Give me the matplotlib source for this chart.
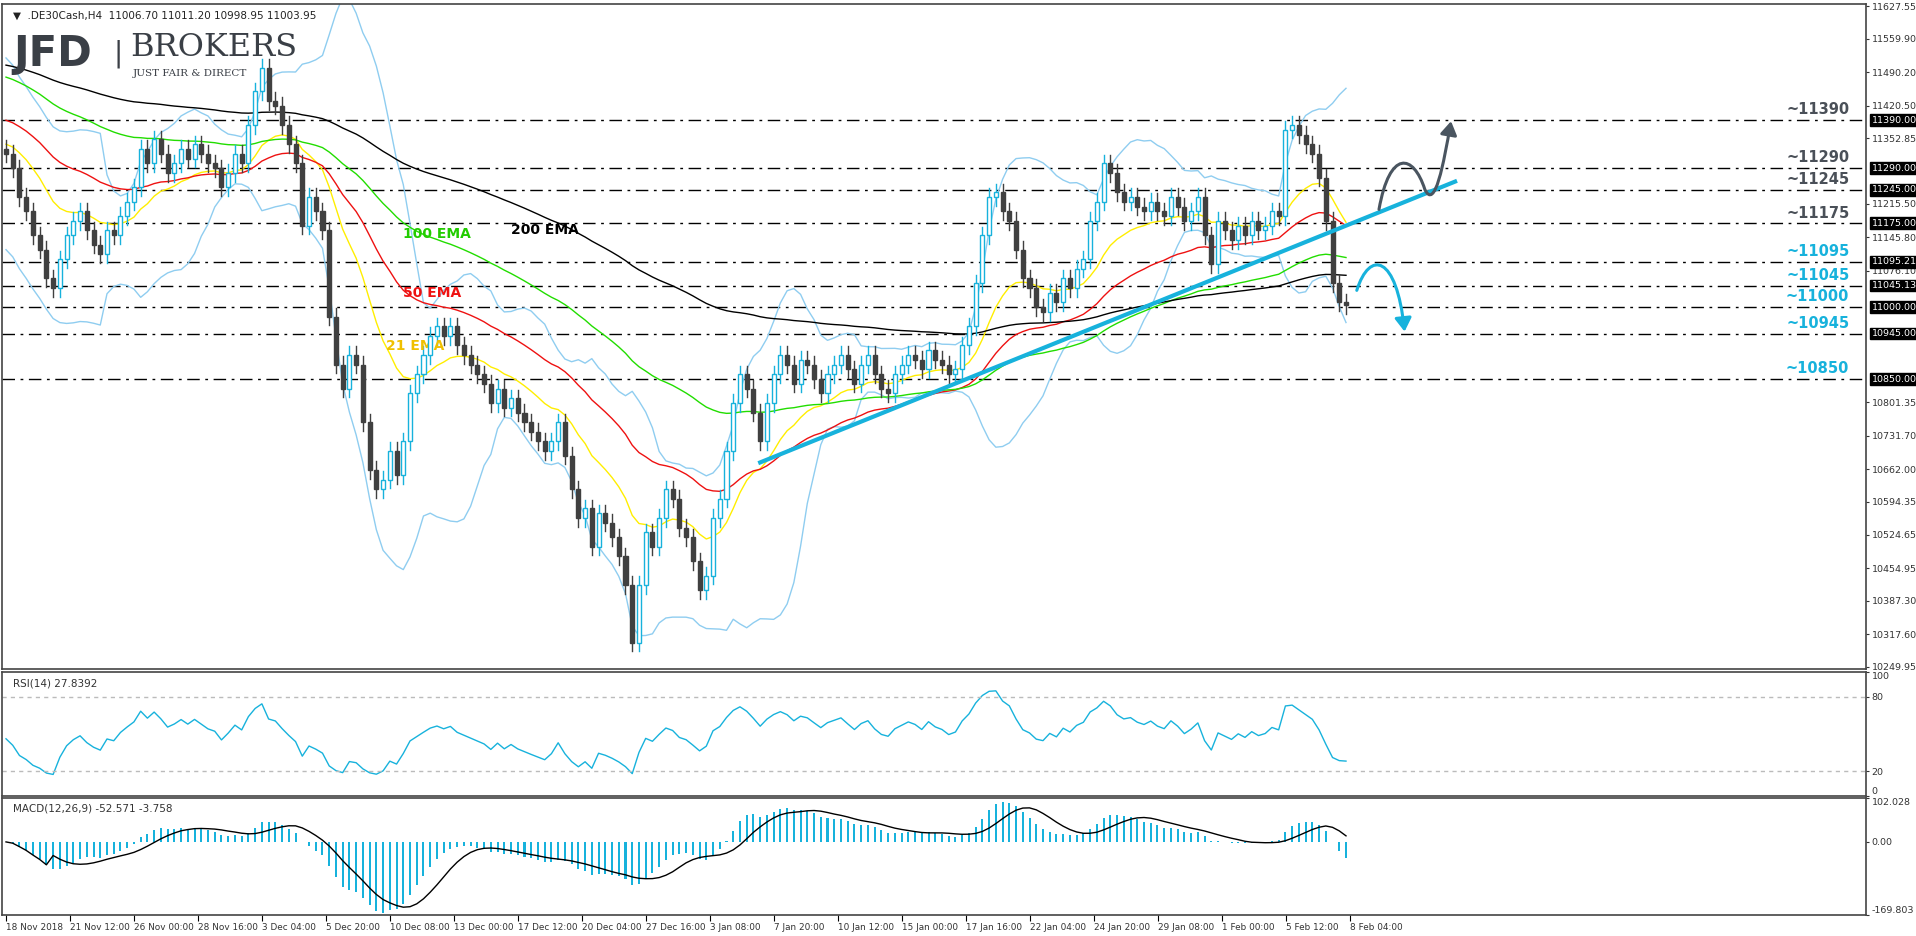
import numpy as np
import matplotlib.pyplot as plt
from matplotlib.path import Path
from matplotlib.patches import FancyArrowPatch, Rectangle

closes = [
    11320, 11290, 11230, 11200, 11150, 11120, 11060, 11040, 11100, 11150,
    11180, 11200, 11160, 11130, 11110, 11160, 11150, 11190, 11220, 11250,
    11330, 11300, 11350, 11320, 11280, 11300, 11330, 11310, 11340, 11320,
    11300, 11290, 11250, 11280, 11320, 11300, 11380, 11450, 11500, 11430,
    11420, 11380, 11340, 11300, 11170, 11230, 11200, 11160, 10980, 10880,
    10830, 10900, 10880, 10760, 10660, 10620, 10640, 10700, 10650, 10720,
    10820, 10860, 10900, 10940, 10960, 10940, 10960, 10920, 10900, 10880,
    10860, 10840, 10800, 10830, 10790, 10810, 10780, 10760, 10740, 10720,
    10700, 10720, 10760, 10690, 10620, 10560, 10580, 10500, 10570, 10550,
    10520, 10480, 10420, 10300, 10420, 10530, 10500, 10560, 10620, 10600,
    10540, 10520, 10470, 10410, 10440, 10560, 10600, 10700, 10800, 10860,
    10830, 10780, 10720, 10800, 10860, 10900, 10880, 10840, 10890, 10880,
    10850, 10820, 10860, 10880, 10900, 10870, 10840, 10880, 10900, 10860,
    10830, 10820, 10860, 10880, 10900, 10890, 10870, 10910, 10890, 10880,
    10860, 10870, 10920, 10960, 11050, 11150, 11230, 11240, 11200, 11180,
    11120, 11060, 11040, 11000, 10990, 11030, 11010, 11060, 11040, 11080,
    11100, 11180, 11220, 11300, 11280, 11240, 11220, 11230, 11210, 11200,
    11220, 11200, 11190, 11230, 11210, 11180, 11200, 11230, 11150, 11090,
    11180, 11160, 11140, 11170, 11150, 11180, 11160, 11170, 11200, 11190,
    11370, 11380, 11360, 11340, 11320, 11270, 11180, 11050, 11010, 11004,
]
first_open = 11330
wick = 18

# EMA values at the left edge of the chart
ema_seeds = {16: 11340, 37: 11390, 75: 11480, 150: 11505}

levels = [11390, 11290, 11245, 11175, 11095, 11045, 11000, 10945, 10850]
level_labels = ['~11390', '~11290', '~11245', '~11175', '~11095', '~11045', '~11000', '~10945', '~10850']
level_boxes = ['11390.00', '11290.00', '11245.00', '11175.00', '11095.21', '11045.13', '11000.00', '10945.00', '10850.00']
price_ticks = [11627.55, 11559.90, 11490.20, 11420.50, 11352.85, 11215.50, 11145.80, 11076.10,
               10801.35, 10731.70, 10662.00, 10594.35, 10524.65, 10454.95, 10387.30, 10317.60, 10249.95]
date_labels = ['18 Nov 2018', '21 Nov 12:00', '26 Nov 00:00', '28 Nov 16:00', '3 Dec 04:00', '5 Dec 20:00',
               '10 Dec 08:00', '13 Dec 00:00', '17 Dec 12:00', '20 Dec 04:00', '27 Dec 16:00', '3 Jan 08:00',
               '7 Jan 20:00', '10 Jan 12:00', '15 Jan 00:00', '17 Jan 16:00', '22 Jan 04:00', '24 Jan 20:00',
               '29 Jan 08:00', '1 Feb 00:00', '5 Feb 12:00', '8 Feb 04:00']
date_every = 9.504

trend = [(112, 10676), (215.2, 11262)]
grey_arrow = [(203.9, 11204), (205.5, 11330), (209, 11320), (210.7, 11246),
              (212.2, 11200), (213.5, 11300), (214.6, 11388)]
cyan_arrow = [(200.6, 11035), (202.5, 11120), (206.5, 11110), (207.7, 10949)]

CYAN = '#17b2dc'
BEAR = '#404040'
FS = 6.8

c = np.array(closes, dtype=float)
n = len(c)
o = np.concatenate([[first_open], c[:-1]])
hi = np.maximum(o, c) + wick
lo = np.minimum(o, c) - wick
x = np.arange(n)


def ema(v, span, seed=None):
    a = 2 / (span + 1)
    out = np.empty_like(v)
    out[0] = v[0] if seed is None else seed
    for i in range(1, len(v)):
        out[i] = out[i - 1] + a * (v[i] - out[i - 1])
    return out


bb_n = 15
mid = np.array([c[max(0, i - bb_n + 1):i + 1].mean() for i in range(n)])
sd = np.array([c[max(0, i - bb_n + 1):i + 1].std() for i in range(n)])
sd[:bb_n] = np.maximum(sd[:bb_n], 100)

d = np.diff(c, prepend=c[0])
up = ema(np.clip(d, 0, None), 19, 12)
dn = ema(np.clip(-d, 0, None), 19, 14)
rsi = 100 - 100 / (1 + up / dn)

macd = ema(c, 9) - ema(c, 19)
signal = np.convolve(macd, np.ones(7) / 7)[:n]
signal[:7] = macd[:7]

fig = plt.figure(figsize=(19.16, 9.36), dpi=100)
W, H = 1916, 936
left, right = 2 / W, 1866 / W
ax = fig.add_axes([left, 1 - 669 / H, right - left, 665 / H])
ax_rsi = fig.add_axes([left, 1 - 796 / H, right - left, 124 / H])
ax_macd = fig.add_axes([left, 1 - 915 / H, right - left, 117 / H])

s = 1340 / (n - 1)
xlim = (-4 / s, (1866 - 6) / s)

for a in (ax, ax_rsi, ax_macd):
    a.set_xlim(*xlim)
    a.yaxis.tick_right()
    a.tick_params(axis='y', labelsize=FS, length=2, pad=2, colors='#333333')
    a.tick_params(axis='x', length=0)
    a.set_xticks([])
    for sp in a.spines.values():
        sp.set_color('#444444')
        sp.set_linewidth(1.2)

# candles
for i in range(n):
    bull = c[i] >= o[i]
    col = CYAN if bull else BEAR
    ax.plot([x[i], x[i]], [lo[i], hi[i]], color=col, lw=1, zorder=3)
    ax.add_patch(Rectangle((x[i] - 0.3, min(o[i], c[i])), 0.6, max(abs(c[i] - o[i]), 2),
                           facecolor='white' if bull else BEAR, edgecolor=col, lw=1, zorder=4))

ax.plot(x, mid + 2 * sd, color='#8fcdf0', lw=1, zorder=2)
ax.plot(x, mid - 2 * sd, color='#8fcdf0', lw=1, zorder=2)
ax.plot(x, ema(c, 16, ema_seeds[16]), color='#ffee00', lw=1, zorder=2)
ax.plot(x, ema(c, 37, ema_seeds[37]), color='#ee1111', lw=1, zorder=2)
ax.plot(x, ema(c, 75, ema_seeds[75]), color='#22dd00', lw=1, zorder=2)
ax.plot(x, ema(c, 150, ema_seeds[150]), color='black', lw=1, zorder=2)

for lv, lab in zip(levels, level_labels):
    ax.axhline(lv, color='black', lw=1, dashes=(9, 4, 2, 4), zorder=1)
    col = '#4a5058' if lv > 11150 else CYAN
    ax.annotate(lab, (xlim[1], lv), xytext=(-12, 2), textcoords='offset points',
                ha='right', va='bottom', fontsize=10.5, fontweight='bold', color=col)

ax.set_ylim(10249.95 - 5, 11627.55 + 5)
ax.set_yticks(price_ticks)
ax.set_yticklabels([f'{v:.2f}' for v in price_ticks])
for lv, lab in zip(levels, level_boxes):
    ax.annotate(lab, (1, lv), xycoords=('axes fraction', 'data'), xytext=(4, 0), textcoords='offset points',
                ha='left', va='center', fontsize=FS, color='white', zorder=10,
                bbox=dict(boxstyle='square,pad=0.15', fc='black', ec='black'), annotation_clip=False)

ax.plot([p[0] for p in trend], [p[1] for p in trend], color=CYAN, lw=3, zorder=5)

gp = Path(grey_arrow, [Path.MOVETO] + [Path.CURVE4] * 6)
ax.add_patch(FancyArrowPatch(path=gp, arrowstyle='-|>,head_length=8,head_width=5', color='#4a5560', lw=2.2, zorder=6))
cp = Path(cyan_arrow, [Path.MOVETO] + [Path.CURVE4] * 3)
ax.add_patch(FancyArrowPatch(path=cp, arrowstyle='-|>,head_length=8,head_width=5', color=CYAN, lw=2.2, zorder=6))

ax.text(75, 11162, '200 EMA', fontsize=10, fontweight='bold', color='black', va='center')
ax.text(59, 11152, '100 EMA', fontsize=10, fontweight='bold', color='#22cc00', va='center')
ax.text(59, 11030, '50 EMA', fontsize=10, fontweight='bold', color='#ee1111', va='center')
ax.text(56.5, 10919, '21 EMA', fontsize=10, fontweight='bold', color='#f0c000', va='center')

ax.text(0.006, 0.99, '\u25bc  .DE30Cash,H4  11006.70 11011.20 10998.95 11003.95', transform=ax.transAxes,
        fontsize=7.5, va='top', color='#222222', zorder=12)
logo = dict(transform=ax.transAxes, color='#3a3f46', va='center', zorder=12)
ax.text(0.006, 0.925, 'JFD', fontsize=30, fontweight='bold', **logo)
ax.text(0.060, 0.925, '|', fontsize=20, **logo)
ax.text(0.069, 0.935, 'BROKERS', fontsize=23, family='DejaVu Serif', **logo)
ax.text(0.070, 0.895, 'JUST FAIR & DIRECT', fontsize=7.5, family='DejaVu Serif', **logo)

# RSI
ax_rsi.plot(x, rsi, color=CYAN, lw=1)
ax_rsi.set_ylim(0, 100)
ax_rsi.set_yticks([100, 80, 20, 0])
tl = ax_rsi.get_yticklabels()
tl[0].set_va('top')
tl[-1].set_va('bottom')
for lv in (80, 20):
    ax_rsi.axhline(lv, color='#bbbbbb', lw=1, dashes=(3, 3))
ax_rsi.text(0.006, 0.95, 'RSI(14) 27.8392', transform=ax_rsi.transAxes, fontsize=7.5, va='top', color='#333333')

# MACD
ax_macd.bar(x, macd, width=0.3, color=CYAN)
ax_macd.plot(x, signal, color='black', lw=1)
ax_macd.set_ylim(-169.803, 102.028)
ax_macd.set_yticks([102.028, 0, -169.803])
ax_macd.set_yticklabels(['102.028', '0.00', '-169.803'])
tl = ax_macd.get_yticklabels()
tl[0].set_va('top')
tl[-1].set_va('bottom')
ax_macd.text(0.006, 0.95, 'MACD(12,26,9) -52.571 -3.758', transform=ax_macd.transAxes, fontsize=7.5, va='top', color='#333333')

ticks = [k * date_every for k in range(len(date_labels))]
ax_macd.set_xticks(ticks)
ax_macd.set_xticklabels(date_labels, ha='left', fontsize=6.4, color='#333333')
ax_macd.tick_params(axis='x', length=4, pad=2)

fig.savefig('out.png', dpi=100)
